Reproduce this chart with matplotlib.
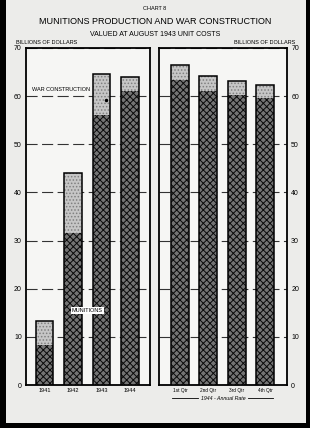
import matplotlib.pyplot as plt
import matplotlib.patches as mpatches
import numpy as np

plt.rcParams['font.family'] = ['Liberation Sans', 'DejaVu Sans']
plt.rcParams['hatch.linewidth'] = 0.7

# annual values, billions of dollars
years = ['1941', '1942', '1943', '1944']
munitions = [8.4, 31.5, 56.1, 61.1]
totals = [13.3, 44.1, 64.6, 64.0]

# 1944 quarters at annual rate
quarters = ['1st Qtr', '2nd Qtr', '3rd Qtr', '4th Qtr']
q_munitions = [63.4, 61.1, 60.2, 59.6]
q_totals = [66.5, 64.2, 63.1, 62.3]

construction = [t - m for t, m in zip(totals, munitions)]
q_construction = [t - m for t, m in zip(q_totals, q_munitions)]

paper = '#ececea'
fig = plt.figure(figsize=(3.1, 4.28), dpi=100, facecolor='black')
fig.patches.append(mpatches.Rectangle((6/310, 5/428), 300/310, 423/428,
                                      transform=fig.transFigure, facecolor=paper,
                                      edgecolor='none', zorder=-10))

ax1 = fig.add_axes([26/310, 43/428, 124/310, 337/428])
ax2 = fig.add_axes([159/310, 43/428, 128/310, 337/428])


def draw(ax, labels, mun, con, width, fs):
    x = np.arange(len(labels))
    ax.set_facecolor('#f6f6f4')
    ax.bar(x, mun, width, color='#747474', edgecolor='#0a0a0a', hatch='xxxxx',
           linewidth=0, zorder=3)
    ax.bar(x, con, width, bottom=mun, color='#c6c6c6', edgecolor='#808080',
           hatch='.....', linewidth=0, zorder=3)
    ax.bar(x, np.array(mun) + np.array(con), width, fill=False,
           edgecolor='black', linewidth=1.1, zorder=4)
    ax.set_ylim(0, 70)
    ax.set_yticks(range(0, 71, 10))
    ax.set_xticks(x)
    ax.set_xticklabels(labels, fontsize=fs)
    ax.tick_params(axis='y', length=0, labelsize=5, pad=3)
    ax.tick_params(axis='x', length=0, pad=2)
    ax.yaxis.grid(True, color='#333333', linewidth=0.8, dashes=(10, 4), zorder=1)
    for s in ax.spines.values():
        s.set_linewidth(1.3)
    return x


draw(ax1, years, munitions, construction, 0.62, 4)
ax1.set_xlim(-0.65, 3.7)
draw(ax2, quarters, q_munitions, q_construction, 0.64, 3.4)
ax2.set_xlim(-0.74, 3.78)
ax2.yaxis.tick_right()

ax1.text(-0.45, 61.3, 'WAR CONSTRUCTION', fontsize=4, va='center', zorder=6)
ax1.plot([2.15], [59.2], 'o', color='black', markersize=1.5, zorder=6)
ax1.text(1.5, 15.5, 'MUNITIONS', fontsize=4, ha='center', va='center', zorder=6,
         bbox=dict(facecolor='white', edgecolor='none', pad=0.8))

fig.text(0.5, 1 - 9/428, 'CHART 8', fontsize=4, ha='center', va='center')
fig.text(0.5, 1 - 22/428, 'MUNITIONS PRODUCTION AND WAR CONSTRUCTION',
         fontsize=6.5, ha='center', va='center')
fig.text(0.5, 1 - 34/428, 'VALUED AT AUGUST 1943 UNIT COSTS',
         fontsize=5, ha='center', va='center')
fig.text(16/310, 1 - 43/428, 'BILLIONS OF DOLLARS', fontsize=4, ha='left', va='center')
fig.text(295/310, 1 - 43/428, 'BILLIONS OF DOLLARS', fontsize=4, ha='right', va='center')

fig.text(223/310, 1 - 398/428, '1944 - Annual Rate', fontsize=3.8, style='italic',
         ha='center', va='center')
fig.lines.append(plt.Line2D([172/310, 198/310], [1 - 398/428] * 2,
                            transform=fig.transFigure, color='black', linewidth=0.6))
fig.lines.append(plt.Line2D([248/310, 273/310], [1 - 398/428] * 2,
                            transform=fig.transFigure, color='black', linewidth=0.6))

fig.savefig('out.png', dpi=100, facecolor='black')
